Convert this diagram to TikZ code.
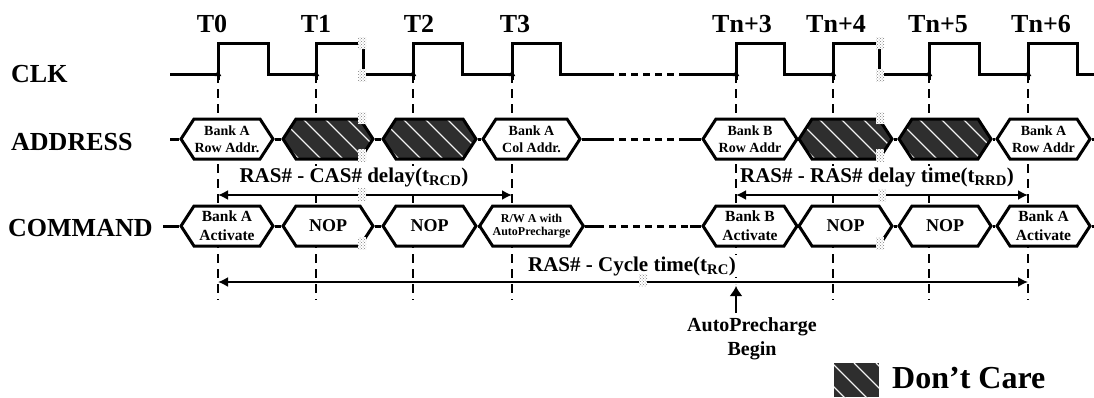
\documentclass[tikz,border=0pt]{standalone}
\usepackage{fontspec}
\setmainfont{Liberation Serif}
\usetikzlibrary{arrows.meta,shapes.symbols,patterns}

\tikzset{
  wave/.style={line width=3pt},
  hexbox/.style={shape=signal, signal to=west and east, signal pointer angle=114,
    draw, line width=3pt, fill=white, minimum height=40pt, inner sep=0pt, align=center},
  dontcare/.style={fill=black!82, path picture={
      \foreach \k in {-90,-68,...,130} {
        \draw[gray!40, line width=1.3pt] ([xshift=\k pt]path picture bounding box.north west) -- ++(80pt,-80pt);
        \draw[white, line width=0.5pt] ([xshift=\k pt]path picture bounding box.north west) -- ++(80pt,-80pt);}}},
  addr/.style={font=\fontsize{14}{17}\selectfont\bfseries},
  cmd/.style={font=\fontsize{15.5}{19}\selectfont\bfseries},
  nop/.style={font=\fontsize{18}{20}\selectfont\bfseries},
  rw/.style={font=\fontsize{12}{12.5}\selectfont\bfseries},
  rowlab/.style={font=\fontsize{26}{30}\selectfont\bfseries, anchor=base west, inner sep=0pt},
  tlab/.style={font=\fontsize{26}{30}\selectfont\bfseries, anchor=base, inner sep=0pt},
  dimlab/.style={font=\fontsize{21}{24}\selectfont\bfseries, anchor=base, fill=white, inner sep=1pt},
  guide/.style={line width=1.5pt, dash pattern=on 9pt off 6pt},
  dim/.style={line width=1.8pt, {Latex[length=10pt,width=10pt]}-{Latex[length=10pt,width=10pt]}},
  edgetip/.style={line width=3pt, -{Latex[length=7pt,width=7pt]}},
  brk/.style={fill=white, postaction={pattern=crosshatch dots, pattern color=gray}},
}

\begin{document}
\begin{tikzpicture}[x=1pt,y=-1pt]
  \useasboundingbox (0,0) rectangle (1094,397);
  % rising edges of the clock
  \foreach \i/\x in {0/218,1/316,2/413,3/512,4/736,5/833,6/929,7/1028}
    \coordinate (t\i) at (\x,74);
  % dashed guides below every rising edge
  \foreach \i in {0,1,2,3,5,6,7}
    \draw[guide] (t\i) -- ++(0,226);
  \draw[guide] (t4) -- ++(0,210);

  % row names
  \node[rowlab] (clk) at (11,82) {CLK};
  \node[rowlab] (address) at (11,150) {ADDRESS};
  \node[rowlab] (command) at (8,236) {COMMAND};

  % clock labels
  \foreach \i/\x/\s in {0/212/T0,1/316/T1,2/419/T2,3/515/T3,4/742/Tn+3,5/836/Tn+4,6/938/Tn+5,7/1041/Tn+6}
    \node[tlab] (lt\i) at (\x,32) {\s};

  % clock waveform
  \draw[wave] (170,74) -- (218,74) -- (218,43) -- (268,43) -- (268,74) -- (316,74) -- (316,43)
    -- (363,43) -- (363,74) -- (413,74) -- (413,43) -- (462,43) -- (462,74) -- (512,74)
    -- (512,43) -- (560,43) -- (560,74) -- (607,74);
  \draw[wave, dash pattern=on 7pt off 5pt] (607,74) -- (685,74);
  \draw[wave] (685,74) -- (736,74) -- (736,43) -- (784,43) -- (784,74) -- (833,74) -- (833,43)
    -- (879,43) -- (879,74) -- (929,74) -- (929,43) -- (979,43) -- (979,74) -- (1028,74)
    -- (1028,43) -- (1077,43) -- (1077,74) -- (1100,74);
  \foreach \i in {0,...,7}
    \draw[edgetip] ([yshift=-6pt]t\i) -- ++(0,-11);

  % address bus
  \node[hexbox, addr, minimum width=92pt] (a1) at (227,139) {Bank A\\Row Addr.};
  \node[hexbox, dontcare, minimum width=90pt] (a2) at (328,139) {};
  \node[hexbox, dontcare, minimum width=93pt] (a3) at (429.5,139) {};
  \node[hexbox, addr, minimum width=97pt] (a4) at (531.5,139) {Bank A\\Col Addr.};
  \node[hexbox, addr, minimum width=94pt] (a5) at (750,139) {Bank B\\Row Addr};
  \node[hexbox, dontcare, minimum width=93pt] (a6) at (845.5,139) {};
  \node[hexbox, dontcare, minimum width=92pt] (a7) at (945,139) {};
  \node[hexbox, addr, minimum width=93pt] (a8) at (1043.5,139) {Bank A\\Row Addr};
  \coordinate (adIn) at (170,139);
  \coordinate (adA) at (607,139);
  \coordinate (adB) at (685,139);
  \coordinate (adOut) at (1100,139);
  \draw[wave] (adIn) -- (a1.west);
  \draw[wave] (a1.east) -- (a2.west);
  \draw[wave] (a2.east) -- (a3.west);
  \draw[wave] (a3.east) -- (a4.west);
  \draw[wave] (a4.east) -- (adA);
  \draw[wave, dash pattern=on 7pt off 5pt] (adA) -- (adB);
  \draw[wave] (adB) -- (a5.west);
  \draw[wave] (a5.east) -- (a6.west);
  \draw[wave] (a6.east) -- (a7.west);
  \draw[wave] (a7.east) -- (a8.west);
  \draw[wave] (a8.east) -- (adOut);

  % command bus
  \node[hexbox, cmd, minimum width=92pt] (c1) at (227,226) {Bank A\\Activate};
  \node[hexbox, nop, minimum width=90pt] (c2) at (328,226) {NOP};
  \node[hexbox, nop, minimum width=93pt] (c3) at (429.5,226) {NOP};
  \node[hexbox, rw, minimum width=97pt] (c4) at (531.5,226) {R/W A with\\AutoPrecharge};
  \node[hexbox, cmd, minimum width=94pt] (c5) at (750,226) {Bank B\\Activate};
  \node[hexbox, nop, minimum width=93pt] (c6) at (845.5,226) {NOP};
  \node[hexbox, nop, minimum width=92pt] (c7) at (945,226) {NOP};
  \node[hexbox, cmd, minimum width=93pt] (c8) at (1043.5,226) {Bank A\\Activate};
  \coordinate (cmIn) at (163,226);
  \coordinate (cmA) at (597,226);
  \coordinate (cmB) at (690,226);
  \coordinate (cmOut) at (1100,226);
  \draw[wave] (cmIn) -- (c1.west);
  \draw[wave] (c1.east) -- (c2.west);
  \draw[wave] (c2.east) -- (c3.west);
  \draw[wave] (c3.east) -- (c4.west);
  \draw[wave] (c4.east) -- (cmA);
  \draw[wave, dash pattern=on 7pt off 5pt] (cmA) -- (cmB);
  \draw[wave] (cmB) -- (c5.west);
  \draw[wave] (c5.east) -- (c6.west);
  \draw[wave] (c6.east) -- (c7.west);
  \draw[wave] (c7.east) -- (c8.west);
  \draw[wave] (c8.east) -- (cmOut);

  % timing intervals
  \draw[dim] (t0 |- 0,195) -- (t3 |- 0,195);
  \node[dimlab] (rcd) at (354,182) {RAS\# - CAS\# delay(t\textsubscript{RCD})};
  \draw[dim] (t4 |- 0,195) -- (t7 |- 0,195);
  \node[dimlab] (rrd) at (877,182) {RAS\# - RAS\# delay time(t\textsubscript{RRD})};
  \draw[dim] (t0 |- 0,282) -- (t7 |- 0,282);
  \node[dimlab] (rc) at (632,271) {RAS\# - Cycle time(t\textsubscript{RC})};

  % auto precharge mark
  \node[font=\fontsize{20}{24}\selectfont\bfseries, align=center, anchor=north, inner sep=0pt]
    (apnote) at (752,317) {AutoPrecharge\\Begin};
  \draw[line width=1.8pt, -{Latex[length=10pt,width=13pt]}] ([yshift=4pt]t4 |- apnote.north) -- (t4 |- 0,286);

  % break marks
  \foreach \x/\y in {362/43,362/75,362/118,362/155,362/194,362/243,
                     880/43,880/75,880/118,880/155,882/195,880/243,643/280}
    \path[brk] (\x-4,\y-6) rectangle (\x+4,\y+6);

  % legend
  \node[dontcare, minimum width=45pt, minimum height=34pt, inner sep=0pt] (dcbox) at (856.5,380) {};
  \node[font=\fontsize{32}{36}\selectfont\bfseries, anchor=base west, inner sep=0pt]
    (dctext) at (892,388) {Don’t Care};
\end{tikzpicture}
\end{document}
